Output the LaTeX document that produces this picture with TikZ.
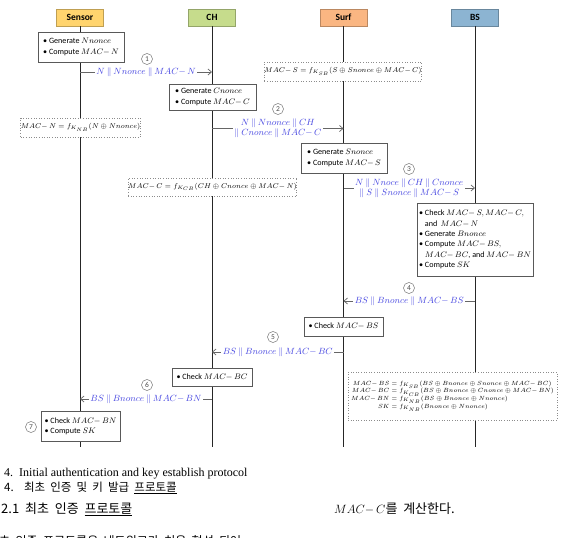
\documentclass[tikz,border=0pt]{standalone}
\usepackage{fontspec}
\setmainfont{Carlito}
\newfontfamily\krfont[WordSpace=2]{Noto Sans CJK KR}
\newfontfamily\serifen{Liberation Serif}
\usetikzlibrary{arrows.meta}
\definecolor{hsensor}{RGB}{255,212,110}
\definecolor{hch}{RGB}{198,220,140}
\definecolor{hsurf}{RGB}{250,182,130}
\definecolor{hbs}{RGB}{140,180,210}
\definecolor{msgblue}{RGB}{70,70,225}
\newcommand{\pp}{\mathbin{\|}}
\begin{document}
\begin{tikzpicture}[x=1pt,y=-1pt,
  hdr/.style={draw=#1!75!black, fill=#1, line width=0.6pt, minimum width=47, minimum height=17, inner sep=0, font=\bfseries\fontsize{9.5}{10}\selectfont},
  life/.style={line width=1pt, draw=black!85},
  act/.style={draw=black!65, line width=0.8pt, fill=white, align=left, inner sep=0, font=\fontsize{8.1}{10.3}\selectfont},
  frm/.style={draw=black!45, dotted, line width=0.6pt, fill=white, inner sep=0, font=\fontsize{6.8}{8}\selectfont},
  msg/.style={text=msgblue, fill=white, inner sep=1.5pt, align=center, font=\fontsize{9.5}{10}\selectfont},
  arr/.style={draw=black!60, line width=0.7pt, -{Straight Barb[length=3.5pt,width=6pt]}},
  num/.style={circle, draw=black!55, line width=0.5pt, minimum size=11, inner sep=0, font=\fontsize{7.5}{8}\selectfont, text=black!70}
]
\useasboundingbox (0,0) rectangle (582,538);
\clip (0,0) rectangle (582,538);
% headers
\node[hdr=hsensor] (sensor) at (80,17.5) {Sensor};
\node[hdr=hch] (ch) at (212,17.5) {CH};
\node[hdr=hsurf] (surf) at (343.5,17.5) {Surf};
\node[hdr=hbs] (bs) at (475,17.5) {BS};
\coordinate (sensorEnd) at (80,447);
\coordinate (chEnd) at (212,447);
\coordinate (surfEnd) at (343.5,447);
\coordinate (bsEnd) at (475,447);
\draw[life] (sensor.south) -- (sensorEnd);
\draw[life] (ch.south) -- (chEnd);
\draw[life] (surf.south) -- (surfEnd);
\draw[life] (bs.south) -- (bsEnd);
% action boxes
\node[act, minimum width=86, minimum height=30] (a1) at (81,47) {\textbullet\ Generate $Nnonce$\\ \textbullet\ Compute $MAC{-}\,N$};
\node[act, minimum width=87, minimum height=26] (a2) at (212.5,97) {\textbullet\ Generate $Cnonce$\\ \textbullet\ Compute $MAC{-}\,C$};
\node[act, minimum width=86, minimum height=30] (a3) at (344,158) {\textbullet\ Generate $Snonce$\\ \textbullet\ Compute $MAC{-}\,S$};
\node[act, minimum width=116, minimum height=73] (a4) at (475,239.5) {\textbullet\ Check $MAC{-}\,S, MAC{-}\,C,$\\ \hphantom{\textbullet\ }and\, $MAC{-}\,N$\\ \textbullet\ Generate $Bnonce$\\ \textbullet\ Compute $MAC{-}\,BS,$\\ \hphantom{\textbullet\ }$MAC{-}\,BC$, and $MAC{-}\,BN$\\ \textbullet\ Compute $SK$};
\node[act, minimum width=79, minimum height=19] (a5) at (343.5,326.5) {\textbullet\ Check $MAC{-}\,BS$};
\node[act, minimum width=80, minimum height=18] (a6) at (212,377) {\textbullet\ Check $MAC{-}\,BC$};
\node[act, minimum width=79, minimum height=30] (a7) at (80.5,426) {\textbullet\ Check $MAC{-}\,BN$\\ \textbullet\ Compute $SK$};
% formula boxes
\node[frm, minimum width=117, minimum height=19] (fN) at (80.5,127.5) {$MAC{-}\,N = f_{K_{NB}}(N \oplus Nnonce)$};
\node[frm, minimum width=152, minimum height=19] (fS) at (343,71.5) {$MAC{-}\,S = f_{K_{SB}}(S \oplus Snonce \oplus MAC{-}\,C)$};
\node[frm, minimum width=161, minimum height=18] (fC) at (212.5,187) {$MAC{-}\,C = f_{K_{CB}}(CH \oplus Cnonce \oplus MAC{-}\,N)$};
\node[frm, minimum width=209, minimum height=48, font=\fontsize{6.3}{7.5}\selectfont] (fB) at (452.5,396) {\renewcommand\arraystretch{0.85}\begin{tabular}{@{}r@{}l@{}}
$MAC{-}\,BS$ & ${}= f_{K_{SB}}(BS \oplus Bnonce \oplus Snonce \oplus MAC{-}\,BC)$\\
$MAC{-}\,BC$ & ${}= f_{K_{CB}}(BS \oplus Bnonce \oplus Cnonce \oplus MAC{-}\,BN)$\\
$MAC{-}\,BN$ & ${}= f_{K_{NB}}(BS \oplus Bnonce \oplus Nnonce)$\\
$SK$ & ${}= f_{K_{NB}}(Bnonce \oplus Nnonce)$
\end{tabular}};
% message coordinates
\coordinate (m1a) at (80,72);    \coordinate (m1b) at (212,72);
\coordinate (m2a) at (212,128.5); \coordinate (m2b) at (343.5,128.5);
\coordinate (m3a) at (343.5,188); \coordinate (m3b) at (475,188);
\coordinate (m4a) at (475,301);  \coordinate (m4b) at (343.5,301);
\coordinate (m5a) at (343.5,352); \coordinate (m5b) at (212,352);
\coordinate (m6a) at (212,399);  \coordinate (m6b) at (80,399);
\draw[arr] (m1a) -- node[msg] (l1) {$N \pp Nnonce \pp MAC{-}\,N$} (m1b);
\draw[arr] (m2a) -- node[msg] (l2) {$N \pp Nnonce \pp CH$\\ ${\|}\; Cnonce \pp MAC{-}\,C$} (m2b);
\draw[arr] (m3a) -- node[msg] (l3) {$N \pp Nnoce \pp CH \pp Cnonce$\\ ${\|}\; S \pp Snonce \pp MAC{-}\,S$} (m3b);
\draw[arr] (m4a) -- node[msg] (l4) {$BS \pp Bnonce \pp MAC{-}\,BS$} (m4b);
\draw[arr] (m5a) -- node[msg] (l5) {$BS \pp Bnonce \pp MAC{-}\,BC$} (m5b);
\draw[arr] (m6a) -- node[msg] (l6) {$BS \pp Bnonce \pp MAC{-}\,BN$} (m6b);
% step numbers
\node[num] (n1) at (147,59) {1};
\node[num] (n2) at (278,109) {2};
\node[num] (n3) at (409,169) {3};
\node[num] (n4) at (409,288) {4};
\node[num] (n5) at (273,337) {5};
\node[num] (n6) at (147,385) {6};
\node[num] (n7) at (31,427) {7};
% caption
\node[anchor=base west, inner sep=0, font=\serifen\fontsize{12}{13}\selectfont] (cap1) at (4,476) {4.\ \ Initial authentication and key establish protocol};
\node[anchor=base west, inner sep=0, font=\krfont\fontsize{11.5}{12}\selectfont] (cap2) at (4,491) {4.\ \ 최초 인증 및 키 발급 \underline{프로토콜}};
\node[anchor=base west, inner sep=0, font=\krfont\fontsize{13}{14}\selectfont] (sec) at (1,513) {2.1 최초 인증 \underline{프로토콜}};
\node[anchor=base west, inner sep=0, font=\krfont\fontsize{13}{14}\selectfont] (rcol) at (334,513) {$MAC{-}\,C$를 계산한다.};
\node[anchor=base west, inner sep=0, font=\krfont\fontsize{12}{14}\selectfont] (body) at (-12,545) {최초 인증 프로토콜은 네트워크가 처음 형성 되어};
\end{tikzpicture}
\end{document}
